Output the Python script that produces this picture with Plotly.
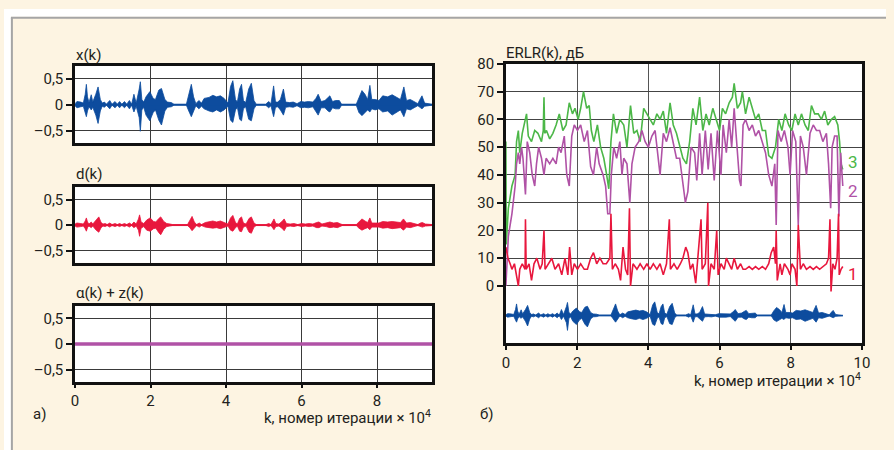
import plotly.graph_objects as go

W, H = 894, 450
FONT = "Roboto, Liberation Sans, sans-serif"
TXT = "#231f20"
BLUE = "#0d4c9e"
RED = "#e8173d"
PURPLE = "#b052a6"
GREEN = "#4cb748"
CREAM = "#fdf4e2"

# ---------------- data: x(k) envelope (k in 1e4 iterations) ----------------
x_k = [0.00, 0.05, 0.15, 0.22, 0.27, 0.30, 0.33, 0.37, 0.43, 0.47, 0.55, 0.61, 0.67, 0.72, 0.78, 0.83,
       0.92, 0.98, 1.06, 1.12, 1.18, 1.24, 1.31, 1.37, 1.44, 1.50, 1.56, 1.62, 1.70, 1.73, 1.77, 1.82,
       1.88, 1.98, 2.07, 2.13, 2.22, 2.29, 2.38, 2.45, 2.55, 2.62, 2.95, 3.00, 3.08, 3.14, 3.20, 3.28,
       3.35, 3.42, 3.55, 3.65, 3.75, 3.85, 3.95, 4.05, 4.12, 4.18, 4.25, 4.30, 4.36, 4.41, 4.46, 4.52,
       4.60, 4.67, 4.74, 4.80, 5.05, 5.13, 5.19, 5.26, 5.31, 5.37, 5.44, 5.52, 5.58, 5.68, 5.78, 5.88,
       5.98, 6.08, 6.18, 6.30, 6.38, 6.44, 6.52, 6.62, 6.70, 6.75, 6.82, 6.90, 7.00, 7.06, 7.45, 7.52,
       7.60, 7.68, 7.75, 7.81, 7.86, 7.95, 8.05, 8.15, 8.28, 8.40, 8.52, 8.62, 8.71, 8.78, 8.88, 8.98,
       9.08, 9.15, 9.19, 9.26, 9.35, 9.46]
x_hi = [0.02, 0.06, 0.05, 0.03, 0.20, 0.39, 0.15, 0.04, 0.19, 0.05, 0.20, 0.34, 0.10, 0.03, 0.05, 0.01,
        0.08, 0.01, 0.06, 0.01, 0.06, 0.01, 0.06, 0.01, 0.08, 0.01, 0.20, 0.03, 0.30, 0.44, 0.10, 0.05,
        0.15, 0.25, 0.12, 0.10, 0.28, 0.31, 0.10, 0.05, 0.04, 0.01, 0.01, 0.15, 0.39, 0.15, 0.02, 0.08,
        0.03, 0.12, 0.14, 0.18, 0.15, 0.17, 0.12, 0.03, 0.35, 0.46, 0.10, 0.05, 0.30, 0.39, 0.08, 0.04,
        0.30, 0.41, 0.08, 0.01, 0.01, 0.06, 0.02, 0.36, 0.05, 0.05, 0.10, 0.30, 0.05, 0.04, 0.05, 0.02,
        0.06, 0.05, 0.06, 0.05, 0.12, 0.20, 0.06, 0.08, 0.14, 0.17, 0.06, 0.08, 0.08, 0.01, 0.01, 0.15,
        0.27, 0.20, 0.10, 0.37, 0.10, 0.10, 0.08, 0.17, 0.15, 0.19, 0.14, 0.10, 0.34, 0.08, 0.10, 0.06,
        0.02, 0.12, 0.17, 0.03, 0.02, 0.01]
x_lo = [-0.02, -0.06, -0.04, -0.03, -0.15, -0.23, -0.12, -0.04, -0.10, -0.05, -0.20, -0.36, -0.12, -0.03, -0.05, -0.01,
        -0.08, -0.01, -0.06, -0.01, -0.06, -0.01, -0.06, -0.01, -0.08, -0.01, -0.14, -0.03, -0.25, -0.51, -0.10, -0.05,
        -0.20, -0.31, -0.15, -0.10, -0.30, -0.39, -0.12, -0.05, -0.04, -0.01, -0.01, -0.10, -0.23, -0.12, -0.02, -0.08,
        -0.03, -0.08, -0.12, -0.14, -0.10, -0.14, -0.10, -0.03, -0.30, -0.34, -0.10, -0.05, -0.28, -0.31, -0.08, -0.04,
        -0.28, -0.31, -0.08, -0.01, -0.01, -0.06, -0.02, -0.23, -0.05, -0.04, -0.10, -0.20, -0.05, -0.04, -0.05, -0.02,
        -0.06, -0.05, -0.06, -0.04, -0.12, -0.20, -0.06, -0.06, -0.12, -0.14, -0.06, -0.08, -0.08, -0.01, -0.01, -0.15,
        -0.21, -0.15, -0.10, -0.14, -0.08, -0.10, -0.08, -0.14, -0.12, -0.20, -0.15, -0.10, -0.23, -0.08, -0.10, -0.06,
        -0.02, -0.06, -0.08, -0.03, -0.02, -0.01]

# ---------------- data: d(k) envelope ----------------
d_k = [0.00, 0.05, 0.15, 0.22, 0.27, 0.30, 0.33, 0.37, 0.43, 0.47, 0.56, 0.63, 0.69, 0.74, 0.80, 0.85,
       0.92, 0.98, 1.06, 1.12, 1.18, 1.24, 1.31, 1.37, 1.44, 1.50, 1.56, 1.62, 1.68, 1.71, 1.75, 1.82,
       1.90, 1.99, 2.08, 2.14, 2.22, 2.27, 2.35, 2.43, 2.52, 2.58, 2.98, 3.04, 3.10, 3.16, 3.22, 3.29,
       3.35, 3.45, 3.55, 3.65, 3.75, 3.85, 3.95, 4.05, 4.12, 4.18, 4.25, 4.30, 4.36, 4.41, 4.46, 4.53,
       4.61, 4.67, 4.74, 4.80, 5.06, 5.13, 5.19, 5.23, 5.27, 5.32, 5.40, 5.48, 5.54, 5.60, 5.70, 5.80,
       5.90, 6.00, 6.10, 6.20, 6.30, 6.40, 6.46, 6.54, 6.65, 6.75, 6.85, 6.95, 7.04, 7.08, 7.45, 7.52,
       7.60, 7.68, 7.75, 7.81, 7.86, 7.95, 8.05, 8.15, 8.28, 8.40, 8.52, 8.62, 8.70, 8.78, 8.88, 8.98,
       9.08, 9.15, 9.20, 9.28, 9.46]
d_hi = [0.02, 0.04, 0.03, 0.02, 0.08, 0.14, 0.06, 0.02, 0.06, 0.02, 0.10, 0.16, 0.05, 0.02, 0.03, 0.01,
        0.04, 0.01, 0.03, 0.01, 0.03, 0.01, 0.03, 0.01, 0.04, 0.01, 0.06, 0.02, 0.12, 0.20, 0.06, 0.03,
        0.10, 0.14, 0.07, 0.06, 0.13, 0.16, 0.07, 0.03, 0.02, 0.01, 0.01, 0.08, 0.17, 0.06, 0.01, 0.04,
        0.01, 0.05, 0.06, 0.08, 0.06, 0.08, 0.05, 0.02, 0.14, 0.19, 0.05, 0.02, 0.13, 0.16, 0.04, 0.02,
        0.13, 0.16, 0.04, 0.01, 0.01, 0.03, 0.01, 0.08, 0.12, 0.03, 0.02, 0.07, 0.12, 0.03, 0.02, 0.03,
        0.01, 0.03, 0.02, 0.03, 0.02, 0.05, 0.06, 0.02, 0.04, 0.06, 0.04, 0.05, 0.02, 0.01, 0.01, 0.06,
        0.12, 0.08, 0.05, 0.14, 0.04, 0.04, 0.04, 0.07, 0.06, 0.07, 0.06, 0.05, 0.12, 0.04, 0.05, 0.03,
        0.01, 0.04, 0.05, 0.02, 0.01]
d_lo = [-0.02, -0.04, -0.03, -0.02, -0.07, -0.12, -0.05, -0.02, -0.05, -0.02, -0.10, -0.14, -0.05, -0.02, -0.03, -0.01,
        -0.04, -0.01, -0.03, -0.01, -0.03, -0.01, -0.03, -0.01, -0.04, -0.01, -0.05, -0.02, -0.10, -0.22, -0.06, -0.03,
        -0.10, -0.12, -0.07, -0.06, -0.15, -0.19, -0.08, -0.03, -0.02, -0.01, -0.01, -0.05, -0.11, -0.05, -0.01, -0.04,
        -0.01, -0.04, -0.05, -0.06, -0.05, -0.07, -0.04, -0.02, -0.10, -0.12, -0.05, -0.02, -0.12, -0.13, -0.04, -0.02,
        -0.14, -0.16, -0.04, -0.01, -0.01, -0.03, -0.01, -0.06, -0.09, -0.03, -0.02, -0.06, -0.11, -0.03, -0.02, -0.03,
        -0.01, -0.03, -0.02, -0.03, -0.02, -0.05, -0.05, -0.02, -0.03, -0.05, -0.04, -0.05, -0.02, -0.01, -0.01, -0.06,
        -0.10, -0.07, -0.05, -0.09, -0.04, -0.04, -0.04, -0.06, -0.05, -0.07, -0.06, -0.05, -0.10, -0.04, -0.05, -0.03,
        -0.01, -0.03, -0.04, -0.02, -0.01]

# ---------------- data: alpha(k) + z(k) ----------------
az_k = [0.0, 9.46]
az_v = [0.0, 0.0]

# ---------------- data: ERLR(k), dB ----------------
erlr3_k = [0.00, 0.01, 0.07, 0.17, 0.26, 0.30, 0.35, 0.39, 0.46, 0.54, 0.58, 0.63, 0.72, 0.81, 0.90, 1.00,
           1.05, 1.07, 1.09, 1.14, 1.23, 1.32, 1.41, 1.50, 1.60, 1.69, 1.78, 1.87, 1.94, 2.03, 2.10, 2.18,
           2.27, 2.34, 2.40, 2.47, 2.57, 2.66, 2.75, 2.83, 2.89, 2.95, 3.02, 3.11, 3.20, 3.31, 3.40, 3.50,
           3.59, 3.68, 3.77, 3.87, 3.96, 4.05, 4.14, 4.24, 4.33, 4.42, 4.51, 4.61, 4.70, 4.79, 4.88, 4.97,
           5.07, 5.16, 5.25, 5.34, 5.44, 5.53, 5.62, 5.71, 5.81, 5.90, 6.00, 6.08, 6.17, 6.27, 6.36, 6.41,
           6.50, 6.59, 6.64, 6.73, 6.83, 6.92, 7.01, 7.10, 7.20, 7.29, 7.38, 7.47, 7.57, 7.66, 7.75, 7.84,
           7.94, 8.03, 8.12, 8.21, 8.30, 8.40, 8.49, 8.58, 8.67, 8.77, 8.86, 8.95, 9.04, 9.14, 9.23, 9.32,
           9.37, 9.41, 9.46]
erlr3_v = [52, 15, 28, 36, 40, 52, 56, 48, 55, 60, 62, 54, 52, 56, 55, 52,
           56, 68, 55, 56, 53, 55, 58, 62, 56, 58, 66, 62, 64, 60, 64, 70,
           64, 65, 56, 52, 58, 50, 46, 40, 35, 52, 62, 55, 60, 58, 50, 65,
           55, 56, 52, 64, 62, 60, 58, 62, 60, 63, 55, 66, 58, 55, 50, 46,
           44, 52, 64, 58, 68, 56, 62, 58, 64, 60, 56, 64, 62, 66, 68, 73,
           64, 66, 70, 62, 68, 64, 60, 62, 56, 56, 47, 46, 50, 60, 56, 62,
           58, 56, 62, 58, 62, 58, 56, 65, 62, 62, 60, 63, 58, 60, 61, 58,
           52, 44, 42]

erlr2_k = [0.00, 0.03, 0.07, 0.17, 0.26, 0.30, 0.35, 0.39, 0.44, 0.48, 0.55, 0.60, 0.67, 0.74, 0.81, 0.86,
           0.92, 1.00, 1.07, 1.13, 1.23, 1.32, 1.41, 1.48, 1.55, 1.64, 1.71, 1.78, 1.85, 1.92, 2.01, 2.10,
           2.20, 2.29, 2.38, 2.46, 2.55, 2.62, 2.73, 2.80, 2.86, 2.92, 2.96, 3.03, 3.11, 3.20, 3.26, 3.31,
           3.40, 3.48, 3.54, 3.63, 3.73, 3.82, 3.91, 4.00, 4.10, 4.19, 4.28, 4.33, 4.42, 4.51, 4.61, 4.70,
           4.79, 4.88, 4.97, 5.04, 5.11, 5.20, 5.30, 5.36, 5.44, 5.51, 5.60, 5.68, 5.76, 5.85, 5.94, 6.04,
           6.10, 6.19, 6.27, 6.34, 6.41, 6.50, 6.56, 6.60, 6.66, 6.73, 6.83, 6.92, 7.01, 7.10, 7.20, 7.29,
           7.38, 7.47, 7.55, 7.59, 7.64, 7.73, 7.82, 7.92, 7.98, 8.05, 8.14, 8.21, 8.27, 8.35, 8.44, 8.54,
           8.63, 8.72, 8.81, 8.90, 9.00, 9.06, 9.12, 9.16, 9.23, 9.30, 9.35, 9.40, 9.46]
erlr2_v = [0, 10, 18, 26, 36, 44, 48, 44, 50, 46, 33, 52, 48, 40, 36, 44,
           50, 46, 40, 46, 44, 46, 44, 50, 48, 54, 40, 36, 54, 58, 56, 58,
           52, 56, 43, 40, 50, 44, 40, 36, 26, 26, 40, 50, 46, 52, 40, 46,
           44, 30, 44, 50, 52, 56, 52, 50, 54, 56, 46, 40, 55, 52, 57, 52,
           46, 46, 38, 30, 34, 50, 48, 38, 55, 40, 56, 42, 55, 38, 56, 40,
           58, 48, 60, 50, 64, 46, 38, 36, 58, 60, 56, 58, 54, 56, 52, 48,
           40, 36, 44, 22, 56, 52, 56, 50, 40, 56, 52, 22, 54, 50, 40, 55,
           58, 56, 56, 52, 55, 44, 28, 50, 54, 54, 25, 48, 36]

erlr1_k = [0.00, 0.06, 0.12, 0.17, 0.24, 0.30, 0.35, 0.39, 0.46, 0.54, 0.55, 0.57, 0.65, 0.72, 0.79, 0.87,
           0.96, 1.02, 1.07, 1.10, 1.20, 1.29, 1.38, 1.48, 1.57, 1.66, 1.74, 1.79, 1.85, 1.92, 2.01, 2.10,
           2.20, 2.29, 2.38, 2.46, 2.55, 2.64, 2.73, 2.82, 2.92, 2.95, 2.99, 3.07, 3.16, 3.22, 3.29, 3.36,
           3.42, 3.47, 3.50, 3.57, 3.68, 3.77, 3.87, 3.96, 4.05, 4.14, 4.24, 4.33, 4.42, 4.51, 4.59, 4.62,
           4.72, 4.81, 4.90, 4.97, 5.05, 5.11, 5.18, 5.25, 5.33, 5.38, 5.48, 5.51, 5.60, 5.67, 5.69, 5.76,
           5.85, 5.92, 5.96, 6.04, 6.13, 6.19, 6.27, 6.34, 6.41, 6.50, 6.59, 6.66, 6.73, 6.83, 6.92, 7.01,
           7.10, 7.20, 7.29, 7.38, 7.45, 7.52, 7.57, 7.59, 7.62, 7.70, 7.75, 7.82, 7.92, 7.98, 8.03, 8.12,
           8.17, 8.21, 8.27, 8.35, 8.44, 8.54, 8.63, 8.72, 8.81, 8.90, 9.00, 9.06, 9.10, 9.13, 9.18, 9.24,
           9.30, 9.34, 9.36, 9.41, 9.46]
erlr1_v = [14, 10, 8, 6, 8, 4, 0, 6, 8, 6, 24, 6, 8, 2, 8, 10,
           6, 8, 20, 6, 8, 10, 6, 8, 4, 10, 4, 14, 4, 8, 6, 8,
           6, 6, 10, 12, 8, 10, 8, 8, 10, 26, 6, 8, 6, 2, 14, 6,
           4, 28, 0, 8, 6, 8, 6, 8, 6, 8, 6, 8, 4, 8, 24, 6,
           8, 6, 8, 10, 14, 12, 6, 8, 1, 8, 24, 6, 8, 30, 0, 8,
           6, 20, 4, 8, 6, 10, 8, 6, 10, 6, 8, 6, 6, 7, 6, 7,
           6, 7, 6, 8, 12, 14, 8, 20, 2, 8, 4, 8, 6, 4, 8, 6,
           0, 22, 6, 8, 6, 7, 6, 7, 6, 7, 8, 10, 24, -2, 8, 6,
           10, 26, 4, 6, 7]

# input signal drawn under the ERLR curves (offset / scale of x(k) in dB units)
ERLR_SIG_OFFSET = -10.6
ERLR_SIG_SCALE = 10.6

yticks_small = [-0.5, 0, 0.5]
yticks_small_txt = ["–0,5", "0", "0,5"]
xticks_left = [0, 2, 4, 6, 8]
xticks_right = [0, 2, 4, 6, 8, 10]
yticks_erlr = [0, 10, 20, 30, 40, 50, 60, 70, 80]

for a, b in [(x_k, x_hi), (x_k, x_lo), (d_k, d_hi), (d_k, d_lo), (erlr3_k, erlr3_v),
             (erlr2_k, erlr2_v), (erlr1_k, erlr1_v)]:
    assert len(a) == len(b), (len(a), len(b))


def px(x):
    return x / W


def py(y):
    return 1 - y / H


fig = go.Figure()


def envelope(k, hi, lo, color, xa, ya, off=0.0, sc=1.0):
    xs = list(k) + list(k)[::-1]
    ys = [off + sc * v for v in hi] + [off + sc * v for v in lo][::-1]
    fig.add_trace(go.Scatter(x=xs, y=ys, mode="lines", fill="toself", fillcolor=color,
                             line=dict(color=color, width=0.8), xaxis=xa, yaxis=ya,
                             hoverinfo="skip", showlegend=False))
    fig.add_trace(go.Scatter(x=[k[0], k[-1]], y=[off, off], mode="lines",
                             line=dict(color=color, width=1.5), xaxis=xa, yaxis=ya,
                             hoverinfo="skip", showlegend=False))


envelope(x_k, x_hi, x_lo, BLUE, "x", "y")
envelope(d_k, d_hi, d_lo, RED, "x2", "y2")
fig.add_trace(go.Scatter(x=az_k, y=az_v, mode="lines", line=dict(color=PURPLE, width=3.5),
                         xaxis="x3", yaxis="y3", showlegend=False))

fig.add_trace(go.Scatter(x=erlr3_k, y=erlr3_v, mode="lines", line=dict(color=GREEN, width=1.6),
                         xaxis="x4", yaxis="y4", showlegend=False))
fig.add_trace(go.Scatter(x=erlr2_k, y=erlr2_v, mode="lines", line=dict(color=PURPLE, width=1.6),
                         xaxis="x4", yaxis="y4", showlegend=False))
fig.add_trace(go.Scatter(x=erlr1_k, y=erlr1_v, mode="lines", line=dict(color=RED, width=1.6),
                         xaxis="x4", yaxis="y4", showlegend=False))
envelope(x_k, x_hi, x_lo, BLUE, "x4", "y4", ERLR_SIG_OFFSET, ERLR_SIG_SCALE)

tickfont = dict(family=FONT, size=15, color=TXT)
common = dict(showline=True, mirror=True, linecolor="#111", linewidth=2.5,
              showgrid=True, gridcolor="#3a3a3a", gridwidth=1, zeroline=False,
              tickfont=tickfont, tickcolor="#111", tickwidth=1.5)

left_dom = [px(72), px(434)]
ydoms = [[py(137), py(58)], [py(259), py(181.7)], [py(380.7), py(302.7)]]
lay = dict()
for i, dom in enumerate(ydoms):
    sfx = "" if i == 0 else str(i + 1)
    last = i == 2
    lay["xaxis" + sfx] = dict(common, domain=left_dom, range=[0, 9.46], anchor="y" + sfx,
                              tickvals=xticks_left, showticklabels=last,
                              ticks="outside" if last else "", ticklen=3)
    lay["yaxis" + sfx] = dict(common, domain=dom, range=[-0.74, 0.745], anchor="x" + sfx,
                              tickvals=yticks_small, ticktext=yticks_small_txt,
                              ticks="outside", ticklen=6)

lay["xaxis4"] = dict(common, domain=[px(508.7), px(869.7)], range=[0, 10], anchor="y4",
                     tickvals=xticks_right, ticks="outside", ticklen=4, gridcolor="#555", gridwidth=1.3)
lay["yaxis4"] = dict(common, domain=[py(340.7), py(56)], range=[-20.5, 80], anchor="x4",
                     tickvals=yticks_erlr, ticks="outside", ticklen=6, gridcolor="#444", gridwidth=1.3)


def ann(text, x, y, xanchor="left", color=TXT, size=15):
    return dict(text=text, x=px(x), y=py(y), xref="paper", yref="paper", xanchor=xanchor,
                yanchor="middle", showarrow=False, font=dict(family=FONT, size=size, color=color))


xlabel = "k, номер итерации × 10<sup>4</sup>"
annotations = [
    ann("x(k)", 71, 47),
    ann("d(k)", 71, 168),
    ann("α(k) + z(k)", 71, 290),
    ann("а)", 27, 413),
    ann(xlabel, 435, 416, "right"),
    ann("ERLR(k), дБ", 507, 45),
    ann(xlabel, 871, 379, "right"),
    ann("б)", 480, 413),
    ann("3", 853, 156, color=GREEN, size=17),
    ann("2", 853, 186, color=PURPLE, size=17),
    ann("1", 853, 270, color=RED, size=17),
]

shapes = [
    dict(type="rect", xref="paper", yref="paper", x0=0, x1=1, y0=py(8), y1=1,
         fillcolor="white", line=dict(width=0), layer="below"),
    dict(type="rect", xref="paper", yref="paper", x0=0, x1=px(7), y0=0, y1=1,
         fillcolor="white", line=dict(width=0), layer="below"),
    dict(type="line", xref="paper", yref="paper", x0=px(7), x1=1, y0=py(9), y1=py(9),
         line=dict(color="#a5a5a5", width=2)),
    dict(type="line", xref="paper", yref="paper", x0=px(8), x1=px(8), y0=0, y1=py(9),
         line=dict(color="#a5a5a5", width=2)),
]

fig.update_layout(width=W, height=H, margin=dict(l=0, r=0, t=0, b=0),
                  paper_bgcolor=CREAM, plot_bgcolor="white", showlegend=False,
                  annotations=annotations, shapes=shapes, **lay)

fig.write_html("out.html", config={"displayModeBar": False},
               post_script="document.body.style.margin='0';document.body.style.overflow='hidden';")
